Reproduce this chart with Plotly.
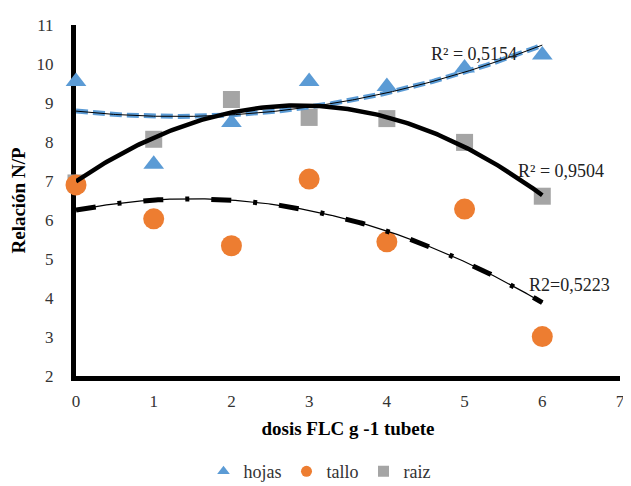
import numpy as np
import plotly.graph_objects as go

dosis = [0, 1, 2, 3, 4, 5, 6]
hojas = [9.55, 7.43, 8.50, 9.55, 9.42, 9.90, 10.23]
tallo = [6.90, 6.03, 5.34, 7.05, 5.44, 6.28, 3.01]
raiz = [6.95, 8.07, 9.09, 8.63, 8.60, 7.99, 6.61]
x_ticks = [0, 1, 2, 3, 4, 5, 6, 7]
y_ticks = [2, 3, 4, 5, 6, 7, 8, 9, 10, 11]
r2_labels = ["R² = 0,5154", "R² = 0,9504", "R2=0,5223"]

BLUE = "#5B9BD5"
ORANGE = "#ED7D31"
GRAY = "#A5A5A5"
FONT = "Liberation Serif, Times New Roman, serif"

xf = np.linspace(min(dosis), max(dosis), 200)
def fit(y):
    c = np.polyfit(dosis, y, 2)
    return np.polyval(c, xf)

fig = go.Figure()
# markers
fig.add_trace(go.Scatter(x=dosis, y=raiz, mode="markers", showlegend=False,
                         marker=dict(symbol="square", size=17, color=GRAY), cliponaxis=False))
fig.add_trace(go.Scatter(x=dosis, y=tallo, mode="markers", showlegend=False,
                         marker=dict(symbol="circle", size=21, color=ORANGE), cliponaxis=False))
fig.add_trace(go.Scatter(x=dosis, y=hojas, mode="markers", showlegend=False,
                         marker=dict(symbol="triangle-up", size=18, color=BLUE), cliponaxis=False))

# trendlines (2nd-order polynomial fits of the data)
fh = fit(hojas)
fig.add_trace(go.Scatter(x=xf, y=fh, mode="lines", showlegend=False,
                         line=dict(color=BLUE, width=5, dash="12px,5px")))
fig.add_trace(go.Scatter(x=xf, y=fh, mode="lines", showlegend=False,
                         line=dict(color="black", width=1)))
fr = fit(raiz)
fig.add_trace(go.Scatter(x=xf, y=fr, mode="lines", showlegend=False,
                         line=dict(color="black", width=4.5)))
ft = fit(tallo)
fig.add_trace(go.Scatter(x=xf, y=ft, mode="lines", showlegend=False,
                         line=dict(color="black", width=1.2)))
fig.add_trace(go.Scatter(x=xf, y=ft, mode="lines", showlegend=False,
                         line=dict(color="black", width=5, dash="20px,22px,4px,22px")))

# legend entries
for name, sym, col in [("hojas", "triangle-up", BLUE), ("tallo", "circle", ORANGE), ("raiz", "square", GRAY)]:
    fig.add_trace(go.Scatter(x=[None], y=[None], mode="markers", name=name,
                             marker=dict(symbol=sym, size=11, color=col)))

ann_pos = [(5.12, 10.26), (6.24, 7.26), (6.35, 4.33)]
for (ax, ay), txt in zip(ann_pos, r2_labels):
    fig.add_annotation(x=ax, y=ay, text=txt, showarrow=False,
                       font=dict(family=FONT, size=18, color="#222"))

fig.update_layout(
    width=623, height=478,
    margin=dict(l=65, r=6, t=17, b=110),
    plot_bgcolor="white", paper_bgcolor="white",
    font=dict(family=FONT, size=17, color="#333"),
    xaxis=dict(range=[0, 7], tickvals=x_ticks, showgrid=False, zeroline=False,
               showline=True, linecolor="black", linewidth=5, ticks="",
               layer="below traces", ticklabelstandoff=6,
               title=dict(text="<b>dosis FLC g -1 tubete</b>",
                          font=dict(family=FONT, size=19, color="black"), standoff=13),
               tickfont=dict(family=FONT, size=17, color="#333")),
    yaxis=dict(range=[2, 11], tickvals=y_ticks, showgrid=False, zeroline=False,
               showline=True, linecolor="black", linewidth=5, ticks="",
               layer="below traces", ticklabelstandoff=14,
               title=dict(text="<b>Relación N/P</b>",
                          font=dict(family=FONT, size=19, color="black"), standoff=9),
               tickfont=dict(family=FONT, size=17, color="#333")),
    legend=dict(orientation="h", xref="container", yref="container", x=0.5, y=0.03,
                xanchor="center", yanchor="middle",
                font=dict(family=FONT, size=18, color="#333"),
                itemwidth=30, tracegroupgap=0),
    showlegend=True,
)

fig.write_html("out.html")
